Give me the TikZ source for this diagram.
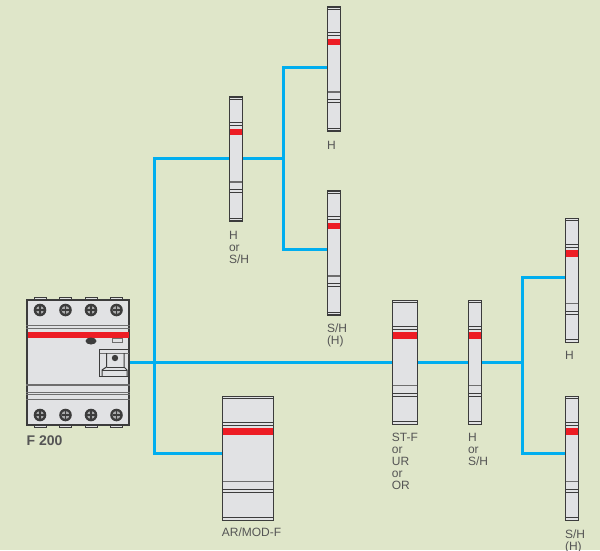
\documentclass[tikz,border=0pt]{standalone}
\usepackage{fontspec}
\setmainfont{Liberation Sans}
\usetikzlibrary{positioning}
\definecolor{paper}{RGB}{223,230,201}
\definecolor{wireblue}{RGB}{0,174,239}
\definecolor{bodygray}{RGB}{225,226,228}
\definecolor{edgegray}{RGB}{60,60,60}
\definecolor{bandgray}{RGB}{110,110,110}
\definecolor{barred}{RGB}{237,28,36}
\definecolor{textgray}{RGB}{85,85,85}
\tikzset{
  wire/.style={wireblue,line width=3pt},
  lbl/.style={anchor=north west,inner sep=0pt,align=left,text=textgray,
    font=\fontsize{12}{12}\selectfont},
  module/.style 2 args={draw=edgegray,fill=bodygray,line width=1.6pt,inner sep=0pt,
    minimum width=#1,minimum height=#2,
    path picture={
      \foreach \dy in {2,25.5,28.5,92.5,95.5,121}
        \draw[edgegray,line width=0.9pt]
          ([yshift=-\dy pt]path picture bounding box.north west) --
          ([yshift=-\dy pt]path picture bounding box.north east);
      \draw[bandgray,line width=1.5pt]
        ([yshift=-85pt]path picture bounding box.north west) --
        ([yshift=-85pt]path picture bounding box.north east);
      \fill[barred]
        ([xshift=0.8pt,yshift=-31.5pt]path picture bounding box.north west) rectangle
        ([xshift=-0.8pt,yshift=-38pt]path picture bounding box.north east);
    }},
  narrow/.style={module={12.8pt}{124pt}},
  wide/.style={module={#1}{124pt}}
}

\begin{document}
\begin{tikzpicture}[x=1pt,y=-1pt]
  \useasboundingbox (0,0) rectangle (600,550);
  \fill[paper] (0,0) rectangle (600,550);

  \foreach \tx in {40,65.5,91,116.5} {
    \draw[edgegray,fill=bodygray,line width=0.9pt] (\tx-6,300.5) rectangle (\tx+6,297.5);
    \draw[edgegray,fill=bodygray,line width=0.9pt] (\tx-6,424.5) rectangle (\tx+6,427.5);
  }
  \node[draw=edgegray,fill=bodygray,line width=1.5pt,inner sep=0pt,
    minimum width=102pt,minimum height=125pt] (fmain) at (78,362.5) {};
  \foreach \ly in {325.5,328.5,392,394.5,399}
    \draw[bandgray,line width=0.9pt] (fmain.west |- 0,\ly) -- (fmain.east |- 0,\ly);
  \draw[bandgray,line width=1.2pt] (fmain.west |- 0,385) -- (fmain.east |- 0,385);
  \fill[barred] (28,332) rectangle (129,338);
  \foreach \tx in {40,65.5,91,116.5}
    \foreach \ty in {310,415} {
      \fill[edgegray] (\tx,\ty) circle (6.3);
      \fill[bodygray!75!black] (\tx,\ty) circle (4);
      \draw[edgegray,line width=1.2pt] (\tx-4,\ty) -- (\tx+4,\ty);
      \draw[edgegray,line width=1.2pt] (\tx,\ty-4) -- (\tx,\ty+4);
    }
  \fill[edgegray] (91,341) ellipse (5.5 and 3.5);
  \draw[bandgray,line width=0.7pt] (112.5,338) rectangle (122,342);
  \draw[edgegray,line width=1pt] (99.5,349) rectangle (129,376);
  \draw[bandgray,line width=0.8pt] (99.5,353) -- (129,353);
  \draw[edgegray,line width=1pt] (106.5,353) -- (106.5,367) -- (102,370) -- (102,376);
  \draw[edgegray,line width=1pt] (124,353) -- (124,367) -- (127,370) -- (127,376);
  \draw[edgegray,line width=1pt] (102,370) -- (127,370);
  \draw[edgegray,line width=0.8pt] (106.5,367) -- (124,367);
  \fill[edgegray] (115,358) circle (3.2);
  \node[anchor=north west,inner sep=0pt,text=textgray,
    font=\fontsize{14}{16}\selectfont\bfseries] (fname) at (26.5,436) {F 200};

  \node[narrow] (hsha) at (236,159) {};
  \node[narrow] (ha) at (334,69) {};
  \node[narrow] (shha) at (334,253) {};
  \node[wide=25pt] (stf) at (405,362.5) {};
  \node[narrow] (hshb) at (475,362.5) {};
  \node[narrow] (hb) at (572,280.5) {};
  \node[narrow] (shhb) at (572,458.5) {};
  \node[wide=51pt] (armod) at (248,458.5) {};

  \node[lbl,below right=9pt and 0pt of hsha.south west] (hshalbl) {H\\or\\S/H};
  \node[lbl,below right=9pt and 0pt of ha.south west] (halbl) {H};
  \node[lbl,below right=8pt and 0pt of shha.south west] (shhalbl) {S/H\\(H)};
  \node[lbl,below right=8pt and 0pt of stf.south west] (stflbl) {ST-F\\or\\UR\\or\\OR};
  \node[lbl,below right=8pt and 0pt of hshb.south west] (hshblbl) {H\\or\\S/H};
  \node[lbl,below right=8pt and 0pt of hb.south west] (hblbl) {H};
  \node[lbl,below right=8pt and 0pt of shhb.south west] (shhblbl) {S/H\\(H)};
  \node[lbl,below right=6pt and 0pt of armod.south west] (armodlbl) {AR/MOD-F};

  \coordinate (jmain) at (154,362.5);
  \coordinate (jtop) at (154,158.5);
  \coordinate (jlow) at (154,453);
  \coordinate (jmid) at (283,158.5);
  \coordinate (jha) at (283,67);
  \coordinate (jsha) at (283,249);
  \coordinate (jright) at (522,362.5);
  \coordinate (jhb) at (522,277);
  \coordinate (jshb) at (522,453);

  \draw[wire] (fmain.east) -- (stf.west);
  \draw[wire] (stf.east) -- (hshb.west);
  \draw[wire] (hshb.east) -- (jright);
  \draw[wire] (jlow -| armod.west) -- (jlow) -- (jtop) -- (jtop -| hsha.west);
  \draw[wire] (jtop -| hsha.east) -- (jmid);
  \draw[wire] (jha -| ha.west) -- (jha) -- (jsha) -- (jsha -| shha.west);
  \draw[wire] (jhb -| hb.west) -- (jhb) -- (jshb) -- (jshb -| shhb.west);
\end{tikzpicture}
\end{document}
